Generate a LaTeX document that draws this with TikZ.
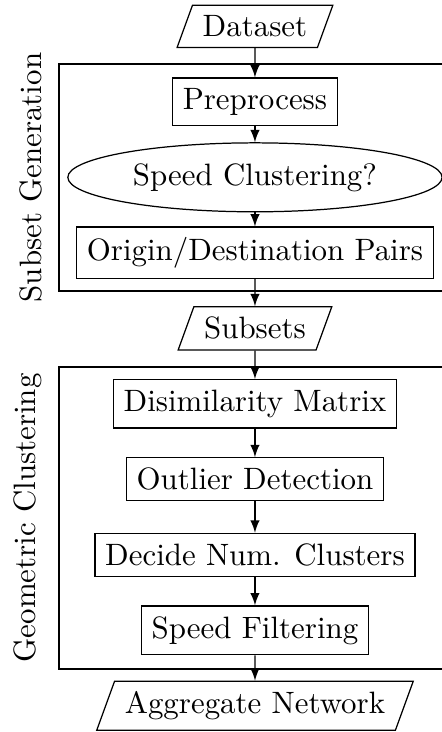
\documentclass[tikz,border=0pt]{standalone}
\usepackage{tikz}
\usetikzlibrary{arrows.meta,shapes.geometric}

\begin{document}
\begin{tikzpicture}[>=latex,
    io/.style={draw,trapezium,trapezium left angle=70,trapezium right angle=110},
    proc/.style={draw,rectangle},
    test/.style={draw,ellipse},
    grp/.style={rotate=90,anchor=south}]
    \useasboundingbox(0,0)rectangle(5.027,-8.326);
    % the two stage frames, right side runs off the page
    \draw(0.671,-0.728)rectangle(5.13,-3.310);
    \draw(0.671,-4.174)rectangle(5.13,-7.609);
    \node[grp](gen)at(0.60,-2.019){Subset Generation};
    \node[grp](geo)at(0.60,-5.891){Geometric Clustering};
    % flow, one step every 0.859
    \node[io](data)at(2.9,-0.300){Dataset};
    \node[proc](pre)at(2.9,-1.159){Preprocess};
    \node[test](speed)at(2.9,-2.017){Speed Clustering?};
    \node[proc](od)at(2.9,-2.876){Origin/Destination Pairs};
    \node[io](sub)at(2.9,-3.735){Subsets};
    \node[proc](dis)at(2.9,-4.594){Disimilarity Matrix};
    \node[proc](out)at(2.9,-5.452){Outlier Detection};
    \node[proc](num)at(2.9,-6.311){Decide Num. Clusters};
    \node[proc](filt)at(2.9,-7.170){Speed Filtering};
    \node[io](agg)at(2.9,-8.028){Aggregate Network};
    \draw[->](data)--(pre);
    \draw[->](pre)--(speed);
    \draw[->](speed)--(od);
    \draw[->](od)--(sub);
    \draw[->](sub)--(dis);
    \draw[->](dis)--(out);
    \draw[->](out)--(num);
    \draw[->](num)--(filt);
    \draw[->](filt)--(agg);
\end{tikzpicture}
\end{document}
